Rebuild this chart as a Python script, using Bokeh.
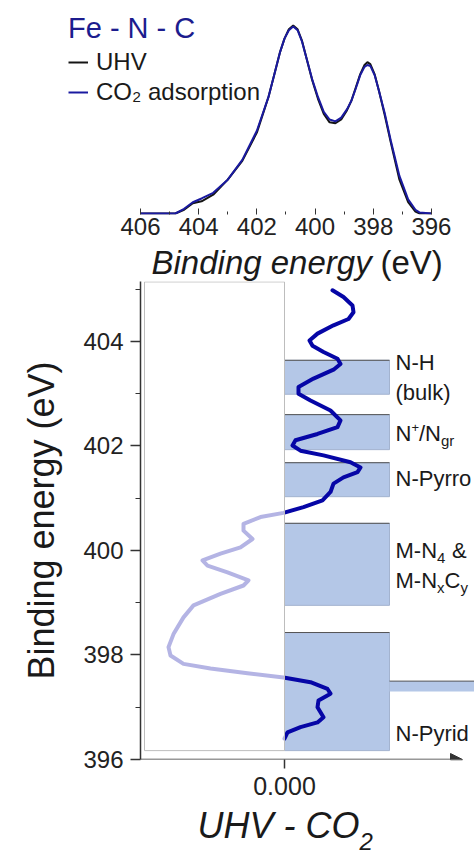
from bokeh.plotting import figure
from bokeh.models import Range1d, FixedTicker, Label, Legend, LegendItem, Arrow, NormalHead
from bokeh.layouts import column
from bokeh.embed import file_html
from bokeh.resources import INLINE

FONT = "Liberation Sans"
TXT = "#1a1a1a"

# ---------------- data: top panel (N 1s spectra, normalised intensity) ----------------
spec_E = [406.0, 404.8, 404.5, 404.2, 403.9, 403.5, 403.0, 402.5, 402.0, 401.6, 401.4,
          401.2, 401.05, 400.9, 400.75, 400.6, 400.45, 400.3, 400.1, 399.9, 399.7,
          399.5, 399.3, 399.1, 398.9, 398.75, 398.6, 398.45, 398.3, 398.2, 398.1,
          397.95, 397.8, 397.6, 397.4, 397.1, 396.8, 396.55, 396.4, 396.0]
uhv_I = [0.0, 0.0, 0.02, 0.055, 0.065, 0.10, 0.18, 0.28, 0.43, 0.62, 0.74,
         0.86, 0.93, 0.98, 1.0, 0.98, 0.92, 0.83, 0.71, 0.61, 0.53,
         0.485, 0.48, 0.50, 0.55, 0.60, 0.67, 0.74, 0.79, 0.805, 0.795,
         0.74, 0.65, 0.52, 0.38, 0.18, 0.06, 0.01, 0.0, 0.0]
co2_I = [0.0, 0.0, 0.025, 0.06, 0.08, 0.11, 0.18, 0.285, 0.44, 0.62, 0.74,
         0.86, 0.93, 0.975, 0.995, 0.975, 0.915, 0.83, 0.715, 0.62, 0.54,
         0.50, 0.49, 0.51, 0.555, 0.60, 0.665, 0.735, 0.78, 0.79, 0.785,
         0.735, 0.65, 0.53, 0.39, 0.20, 0.075, 0.02, 0.005, 0.0]

# ---------------- data: bottom panel (difference UHV - CO2) ----------------
diff_E = [404.98, 404.85, 404.69, 404.56, 404.43, 404.31, 404.15, 404.02, 403.92, 403.80,
          403.67, 403.57, 403.46, 403.29, 403.13, 403.00, 402.87, 402.68, 402.49, 402.36,
          402.23, 402.11, 402.01, 401.91, 401.82, 401.69, 401.59, 401.50, 401.40, 401.28,
          401.12, 400.96, 400.83, 400.72, 400.64, 400.51, 400.38, 400.22, 400.06, 399.94,
          399.81, 399.71, 399.58, 399.43, 399.33, 399.17, 398.95, 398.72, 398.40, 398.15,
          397.99, 397.83, 397.74, 397.65, 397.57, 397.48, 397.35, 397.26, 397.13, 397.00,
          396.81, 396.71, 396.62, 396.52, 396.40]
diff_V = [0.0048, 0.0059, 0.0068, 0.0069, 0.0064, 0.0049, 0.0033, 0.0025, 0.0028, 0.0039,
          0.0053, 0.0056, 0.0049, 0.0029, 0.0014, 0.0014, 0.0026, 0.0046, 0.0056, 0.0053,
          0.0033, 0.0011, 0.0008, 0.0016, 0.0039, 0.0066, 0.0076, 0.0073, 0.0059, 0.0049,
          0.0046, 0.0038, 0.0019, -0.0001, -0.0024, -0.0041, -0.0041, -0.0032, -0.0044, -0.0064,
          -0.0082, -0.0077, -0.0057, -0.0036, -0.0041, -0.0064, -0.0091, -0.0101, -0.0111, -0.0116,
          -0.0114, -0.0101, -0.0074, -0.0037, -0.0001, 0.0026, 0.0043, 0.0046, 0.0034, 0.0033,
          0.0039, 0.0033, 0.0016, 0.0003, 0.0]

band_names = ["N-H", "N+/Ngr", "N-Pyrrolic", "M-N4 & M-NxCy", "N-Pyridinic"]
band_lo = [402.99, 401.93, 401.03, 398.95, 396.17]
band_hi = [403.64, 402.60, 401.68, 400.52, 398.43]
band_width = 0.0105
ext_lo, ext_hi = 397.30, 397.50

# ================= top figure (spectra) =================
p1 = figure(width=474, height=244, x_range=Range1d(410.81, 394.52),
            y_range=Range1d(-0.0053, 1.133), output_backend="svg",
            toolbar_location=None, y_axis_location=None,
            min_border_left=0, min_border_right=0, min_border_top=0, min_border_bottom=30)
p1.frame_align = False
p1.outline_line_color = None
p1.grid.visible = False

r_uhv = p1.line(spec_E, uhv_I, line_width=2, color="#141414")
r_co2 = p1.line(spec_E, co2_I, line_width=2, color="#1a1aa0")

ax = p1.xaxis[0]
ax.ticker = FixedTicker(ticks=[406, 404, 402, 400, 398, 396], minor_ticks=[405, 403, 401, 399, 397])
ax.axis_line_color = None
ax.major_tick_in = 6
ax.major_tick_out = 0
ax.minor_tick_in = 3
ax.minor_tick_out = 0
ax.major_tick_line_color = "#333333"
ax.minor_tick_line_color = "#333333"
ax.major_label_text_font = FONT
ax.major_label_text_font_size = "24px"
ax.major_label_text_color = "#222222"
ax.major_label_standoff = 3

legend = Legend(items=[LegendItem(label="UHV", renderers=[r_uhv]),
                       LegendItem(label="CO\u2082 adsorption", renderers=[r_co2])],
                title="Fe - N - C", location=(68, 107))
legend.title_text_font = FONT
legend.title_text_font_size = "29px"
legend.title_text_font_style = "normal"
legend.title_text_color = "#1c1c8e"
legend.title_standoff = 2
legend.label_text_font = FONT
legend.label_text_font_size = "24px"
legend.label_text_color = TXT
legend.label_height = 30
legend.glyph_height = 30
legend.glyph_width = 20
legend.label_standoff = 8
legend.spacing = 0
legend.padding = 0
legend.margin = 0
legend.background_fill_alpha = 0
legend.border_line_color = None
p1.add_layout(legend)

# strip holding the top x-axis title (mixed italic / upright)
s1 = figure(width=474, height=37, x_range=Range1d(0, 474), y_range=Range1d(0, 37),
            output_backend="svg", toolbar_location=None, x_axis_location=None,
            y_axis_location=None, min_border_left=0, min_border_right=0,
            min_border_top=0, min_border_bottom=0)
s1.frame_align = False
s1.outline_line_color = None
s1.grid.visible = False
s1.add_layout(Label(x=151, y=18.6, text="Binding energy", text_font=FONT, text_font_size="33px",
                    text_font_style="italic", text_color=TXT, text_baseline="middle"))
s1.add_layout(Label(x=380, y=18.6, text="(eV)", text_font=FONT, text_font_size="33px",
                    text_color=TXT, text_baseline="middle"))

# ================= bottom figure (difference) =================
p2 = figure(width=474, height=523, x_range=Range1d(-0.0144, 0.019),
            y_range=Range1d(396, 405.148), output_backend="svg", toolbar_location=None,
            min_border_left=140, min_border_right=0, min_border_top=0, min_border_bottom=45)
p2.frame_align = False
p2.outline_line_color = None
p2.grid.visible = False

# bands
p2.quad(left=0, right=band_width, bottom=band_lo, top=band_hi,
        fill_color="#b4c7e7", line_color="#a3b3cf", line_width=1)
p2.segment(x0=0, x1=band_width, y0=band_hi, y1=band_hi, line_color="#555555", line_width=1)
p2.quad(left=band_width, right=0.019, bottom=ext_lo, top=ext_hi,
        fill_color="#b4c7e7", line_color=None)
p2.segment(x0=band_width, x1=0.019, y0=ext_hi, y1=ext_hi, line_color="#555555", line_width=1)

# difference curve
p2.line(diff_V, diff_E, line_width=4, color="#0606a6", line_join="round", line_cap="round")

# translucent white panel over the negative side
p2.quad(left=-0.014, right=0, bottom=396.17, top=405.14,
        fill_color="white", fill_alpha=0.7, line_color="#bdbdbd", line_width=1)

yax = p2.yaxis[0]
yax.ticker = FixedTicker(ticks=[396, 398, 400, 402, 404], minor_ticks=[397, 399, 401, 403, 405])
yax.axis_line_color = "#333333"
yax.axis_line_width = 1.5
yax.major_tick_out = 10
yax.major_tick_in = 0
yax.minor_tick_out = 5
yax.minor_tick_in = 0
yax.major_tick_line_color = "#333333"
yax.minor_tick_line_color = "#333333"
yax.major_tick_line_width = 1.5
yax.major_label_text_font = FONT
yax.major_label_text_font_size = "24px"
yax.major_label_text_color = "#222222"
yax.major_label_standoff = 7
yax.axis_label = "Binding energy (eV)"
yax.axis_label_text_font = FONT
yax.axis_label_text_font_size = "36px"
yax.axis_label_text_font_style = "normal"
yax.axis_label_text_color = TXT
yax.axis_label_standoff = 18

xax = p2.xaxis[0]
xax.ticker = FixedTicker(ticks=[0], minor_ticks=[])
xax.major_label_overrides = {0: "0.000"}
xax.axis_line_color = None
xax.major_tick_out = 9
xax.major_tick_in = 0
xax.major_tick_line_color = "#333333"
xax.major_tick_line_width = 1.5
xax.major_label_text_font = FONT
xax.major_label_text_font_size = "25px"
xax.major_label_text_color = "#222222"
xax.major_label_standoff = 8

p2.add_layout(Arrow(end=NormalHead(size=12, fill_color="#333333", line_color="#333333"),
                    x_start=-0.0144, y_start=396, x_end=0.0178, y_end=396,
                    line_color="#333333", line_width=1.5))

# band labels
def lab(y, text, dx=0, dy=0, size="22px"):
    p2.add_layout(Label(x=band_width, y=y, x_offset=6 + dx, y_offset=dy, text=text,
                        text_font=FONT, text_font_size=size, text_color=TXT,
                        text_baseline="middle"))

lab(403.60, "N-H")
lab(403.02, "(bulk)")
lab(402.24, "N")
lab(402.24, "+", dx=15.9, dy=6, size="13px")
lab(402.24, "/N", dx=23.5)
lab(402.24, "gr", dx=45.5, dy=-7.5, size="15px")
lab(401.38, "N-Pyrro")
lab(400.00, "M-N")
lab(400.00, "4", dx=41.5, dy=-7.5, size="15px")
lab(400.00, "&", dx=56.5)
lab(399.43, "M-N")
lab(399.43, "x", dx=41.5, dy=-7.5, size="15px")
lab(399.43, "C", dx=49.0)
lab(399.43, "y", dx=64.9, dy=-7.5, size="15px")
lab(396.50, "N-Pyrid")

# strip holding the bottom x-axis title with subscript
s2 = figure(width=474, height=54, x_range=Range1d(0, 474), y_range=Range1d(0, 54),
            output_backend="svg", toolbar_location=None, x_axis_location=None,
            y_axis_location=None, min_border_left=0, min_border_right=0,
            min_border_top=0, min_border_bottom=0)
s2.frame_align = False
s2.outline_line_color = None
s2.grid.visible = False
s2.add_layout(Label(x=197, y=33.5, text="UHV - CO", text_font=FONT, text_font_size="36px",
                    text_font_style="italic", text_color=TXT, text_baseline="middle"))
s2.add_layout(Label(x=359, y=17.3, text="2", text_font=FONT, text_font_size="24px",
                    text_font_style="italic", text_color=TXT, text_baseline="middle"))

layout = column(p1, s1, p2, s2)
open("out.html", "w").write(file_html(layout, INLINE))
